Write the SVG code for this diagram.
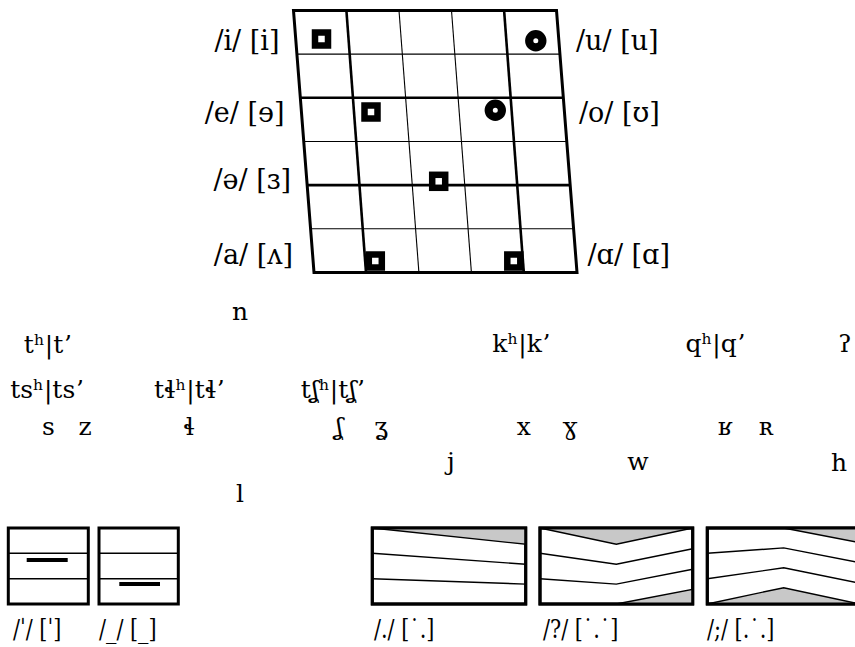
<svg xmlns="http://www.w3.org/2000/svg" width="855" height="647" viewBox="0 0 855 647">
<style>
.bg{fill:#ffffff}
.lbl{font-family:"DejaVu Serif","Liberation Serif",serif;font-size:27px;fill:#000}
.cons{font-family:"DejaVu Serif","Liberation Serif",serif;font-size:25px;fill:#000;text-anchor:middle}
.tlbl{font-family:"DejaVu Serif","Liberation Serif",serif;font-size:26px;fill:#000}
.outer{fill:none;stroke:#000;stroke-width:3;stroke-linejoin:miter}
.thick{stroke:#000;stroke-width:2.6;fill:none}
.thin{stroke:#000;stroke-width:1.1;fill:none}
.sq{fill:#fff;stroke:#000;stroke-width:6.5}
.ci{fill:#fff;stroke:#000;stroke-width:8.2}
.box{fill:#fff;stroke:#000;stroke-width:3}
.tl{stroke:#000;stroke-width:1.4;fill:none}
.bar{stroke:#000;stroke-width:4.2}
.grey{fill:#c8c8c8;stroke:#000;stroke-width:1.4;stroke-linejoin:miter}
.frame{fill:none;stroke:#000;stroke-width:3}
</style>
<rect class="bg" x="0" y="0" width="855" height="647"/>

<g id="vowel-chart">
  <g id="grid">
    <line class="thin" x1="296.9" y1="54.15" x2="559.9" y2="54.15"/>
    <line class="thick" x1="300.3" y1="97.8" x2="563.3" y2="97.8"/>
    <line class="thin" x1="303.7" y1="141.45" x2="566.7" y2="141.45"/>
    <line class="thick" x1="307.2" y1="185.1" x2="570.2" y2="185.1"/>
    <line class="thin" x1="310.6" y1="228.75" x2="573.6" y2="228.75"/>
    <line class="thick" x1="346.4" y1="10.5" x2="366" y2="272.4"/>
    <line class="thin" x1="399" y1="10.5" x2="418.9" y2="272.4"/>
    <line class="thin" x1="451.5" y1="10.5" x2="471.4" y2="272.4"/>
    <line class="thick" x1="504.1" y1="10.5" x2="523.8" y2="272.4"/>
    <polygon class="outer" points="293.5,10.5 556.5,10.5 577,272.4 314,272.4"/>
  </g>
  <g id="markers">
    <rect class="sq" x="315" y="32.5" width="13" height="13"/>
    <rect class="sq" x="364.5" y="105.5" width="13" height="13"/>
    <rect class="sq" x="432.2" y="174.8" width="13" height="13"/>
    <rect class="sq" x="368.8" y="254.5" width="13" height="13"/>
    <rect class="sq" x="507.3" y="254.5" width="13" height="13"/>
    <circle class="ci" cx="535.8" cy="40.8" r="6.6"/>
    <circle class="ci" cx="495.3" cy="110.3" r="6.6"/>
  </g>
</g>

<g id="vowel-labels">
  <text id="lbl-i" class="lbl" x="279.5" y="50" text-anchor="end">/i/ [i]</text>
  <text id="lbl-e" class="lbl" x="284.5" y="121.5" text-anchor="end">/e/ [ɘ]</text>
  <text id="lbl-schwa" class="lbl" x="291" y="188.5" text-anchor="end">/ə/ [ɜ]</text>
  <text id="lbl-a" class="lbl" x="293" y="263.5" text-anchor="end">/a/ [ʌ]</text>
  <text id="lbl-u" class="lbl" x="576" y="49.5">/u/ [u]</text>
  <text id="lbl-o" class="lbl" x="579" y="121.5">/o/ [ʊ]</text>
  <text id="lbl-alpha" class="lbl" x="587.5" y="263.5">/ɑ/ [ɑ]</text>
</g>

<g id="consonants">
  <text class="cons" x="240" y="320">n</text>
  <text class="cons" x="47.5" y="353">tʰ|tʼ</text>
  <text class="cons" x="521" y="352">kʰ|kʼ</text>
  <text class="cons" x="715" y="352">qʰ|qʼ</text>
  <text class="cons" x="845" y="352" text-anchor="start">ʔ</text>
  <text class="cons" x="46.7" y="398">tsʰ|tsʼ</text>
  <text class="cons" x="189" y="398">tɬʰ|tɬʼ</text>
  <text class="cons" x="332.5" y="398">tʆʰ|tʆʼ</text>
  <text class="cons" x="48.3" y="435">s</text>
  <text class="cons" x="85" y="435">z</text>
  <text class="cons" x="189" y="435">ɬ</text>
  <text class="cons" x="339" y="435">ʆ</text>
  <text class="cons" x="381" y="435">ʓ</text>
  <text class="cons" x="523.7" y="435">x</text>
  <text class="cons" x="570" y="435">ɣ</text>
  <text class="cons" x="725" y="435">ʁ</text>
  <text class="cons" x="766" y="435">ʀ</text>
  <text class="cons" x="451" y="470">j</text>
  <text class="cons" x="638" y="470">w</text>
  <text class="cons" x="839" y="471">h</text>
  <text class="cons" x="240" y="502">l</text>
</g>

<g id="tone-mid">
  <rect class="box" x="8.3" y="528" width="80" height="76"/>
  <line class="tl" x1="8.3" y1="553.3" x2="88.3" y2="553.3"/>
  <line class="tl" x1="8.3" y1="578.7" x2="88.3" y2="578.7"/>
  <line class="bar" x1="26.7" y1="560" x2="67.7" y2="560"/>
  <text class="tlbl" transform="translate(13,638) scale(0.8,1)">/ˈ/ [ˈ]</text>
</g>

<g id="tone-low">
  <rect class="box" x="99" y="528" width="79.3" height="76"/>
  <line class="tl" x1="99" y1="553.3" x2="178.3" y2="553.3"/>
  <line class="tl" x1="99" y1="578.7" x2="178.3" y2="578.7"/>
  <line class="bar" x1="119.3" y1="584" x2="160" y2="584"/>
  <text class="tlbl" transform="translate(99,638) scale(0.8,1)">/_/ [_]</text>
</g>

<g id="tone-falling">
  <rect class="box" x="372.3" y="528" width="153.4" height="76"/>
  <polygon class="grey" points="372.3,528 525.7,528 525.7,544.3"/>
  <polyline class="tl" points="372.3,553.3 525.7,564.2"/>
  <polyline class="tl" points="372.3,578.7 525.7,584.1"/>
  <rect class="frame" x="372.3" y="528" width="153.4" height="76"/>
  <text class="tlbl" transform="translate(374,638) scale(0.8,1)">/./ [˙.]</text>
</g>

<g id="tone-dipping">
  <rect class="box" x="540" y="528" width="152.7" height="76"/>
  <polygon class="grey" points="540,528 616.3,544.3 692.7,528"/>
  <polyline class="tl" points="540,553.3 616.3,564.2 692.7,548.7"/>
  <polyline class="tl" points="540,578.7 616.3,584.1 692.7,569.2"/>
  <polygon class="grey" points="616.3,604 692.7,589.3 692.7,604"/>
  <rect class="frame" x="540" y="528" width="152.7" height="76"/>
  <text class="tlbl" transform="translate(543,638) scale(0.8,1)">/?/ [˙.˙]</text>
</g>

<g id="tone-peaking">
  <rect class="box" x="707.3" y="528" width="152.7" height="76"/>
  <polygon class="grey" points="783.7,528 860,528 860,542.7"/>
  <polyline class="tl" points="707.3,553.3 783.7,547.9 860,562.8"/>
  <polyline class="tl" points="707.3,578.7 783.7,567.8 860,583.3"/>
  <polygon class="grey" points="707.3,604 783.7,587.7 860,604"/>
  <rect class="frame" x="707.3" y="528" width="152.7" height="76"/>
  <text class="tlbl" transform="translate(707,638) scale(0.8,1)">/;/ [.˙.]</text>
</g>
</svg>
